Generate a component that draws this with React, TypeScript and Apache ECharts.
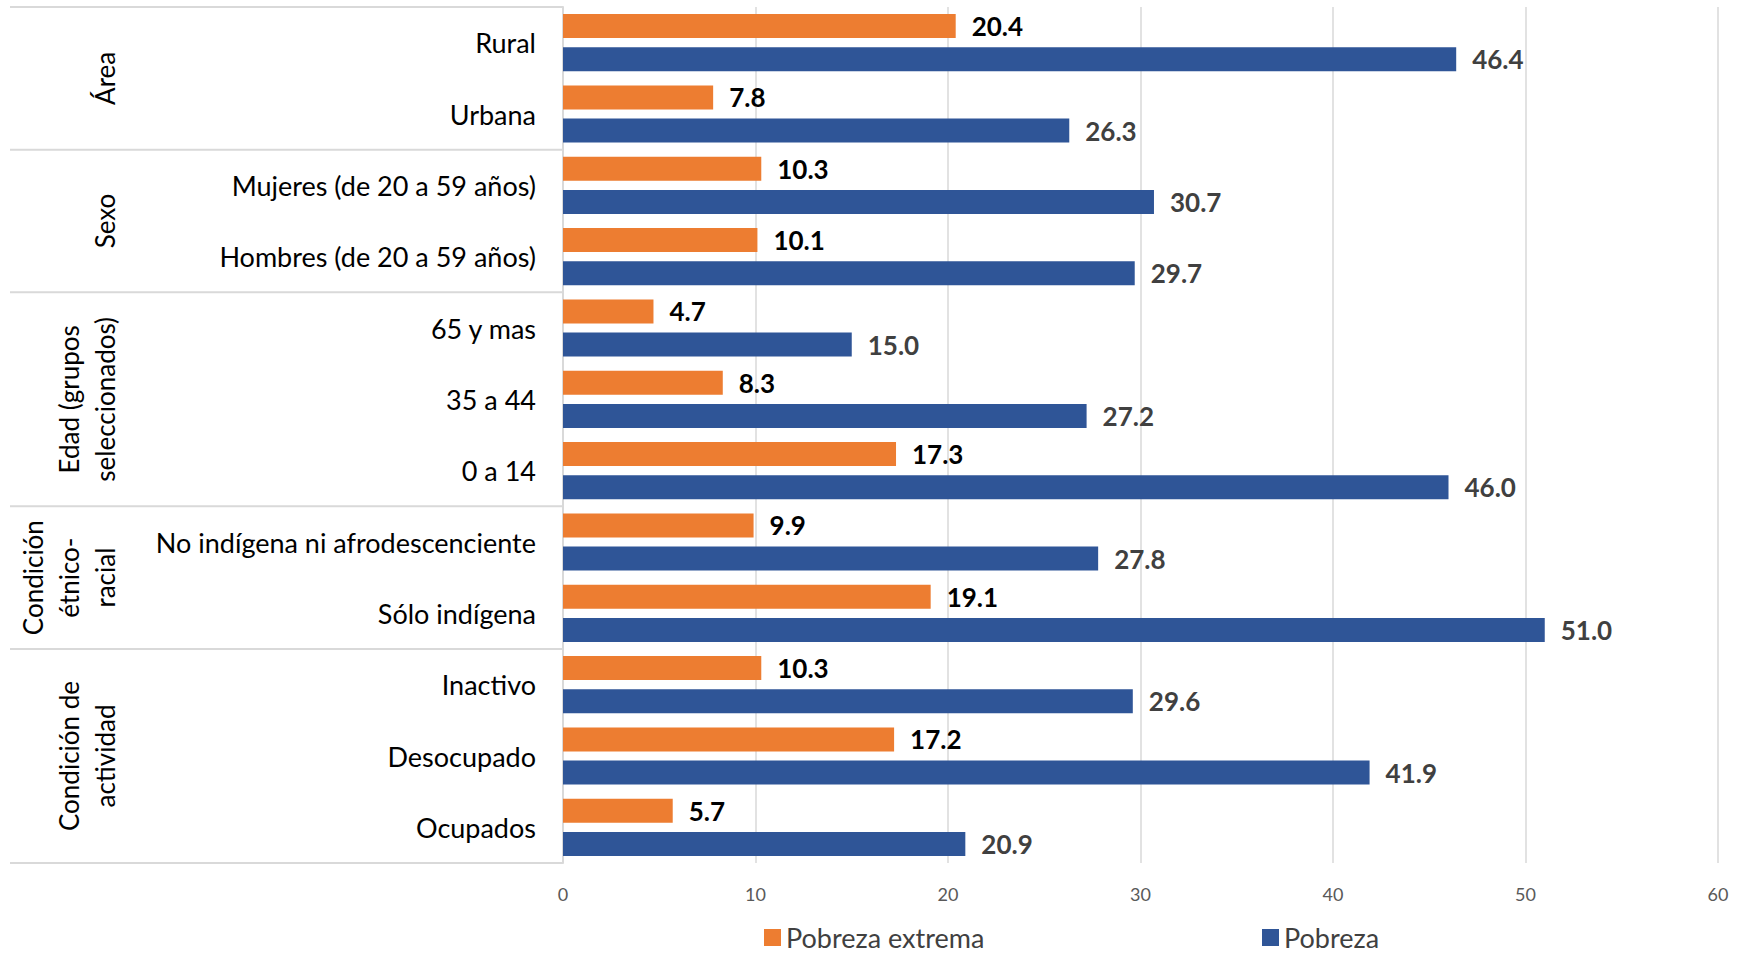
import React, { useEffect, useRef } from "react";
import * as echarts from "echarts";

const categories = [
  "Rural",
  "Urbana",
  "Mujeres (de 20 a 59 años)",
  "Hombres (de 20 a 59 años)",
  "65 y mas",
  "35 a 44",
  "0 a 14",
  "No indígena ni afrodescenciente",
  "Sólo indígena",
  "Inactivo",
  "Desocupado",
  "Ocupados",
];
const pobrezaExtrema = [20.4, 7.8, 10.3, 10.1, 4.7, 8.3, 17.3, 9.9, 19.1, 10.3, 17.2, 5.7];
const pobreza = [46.4, 26.3, 30.7, 29.7, 15.0, 27.2, 46.0, 27.8, 51.0, 29.6, 41.9, 20.9];
const groupNames = [
  "Área",
  "Sexo",
  "Edad (grupos\nseleccionados)",
  "Condición\nétnico-\nracial",
  "Condición de\nactividad",
];
const groupSizes = [2, 2, 3, 2, 3];
const xTicks = { min: 0, max: 60, interval: 10 };

const FONT = "Lato";
const GRID = "#d9d9d9";

export default function App() {
  const ref = useRef<HTMLDivElement>(null);
  useEffect(() => {
    if (!ref.current) return;
    const chart = echarts.init(ref.current, null, { renderer: "svg" });
    const legendText = { fontSize: 27, lineHeight: 27, color: "#404040", fontFamily: FONT };
    chart.setOption({
      animation: false,
      textStyle: { fontFamily: FONT },
      grid: { left: 563, right: 21, top: 7, bottom: 94, containLabel: false },
      legend: [
        {
          left: 764,
          top: 924,
          padding: 0,
          itemWidth: 17,
          itemHeight: 17,
          itemGap: 8,
          icon: "rect",
          data: ["Pobreza extrema"],
          textStyle: legendText,
        },
        {
          left: 1262,
          top: 924,
          padding: 0,
          itemWidth: 17,
          itemHeight: 17,
          icon: "rect",
          data: ["Pobreza"],
          textStyle: legendText,
        },
      ],
      xAxis: {
        type: "value",
        min: xTicks.min,
        max: xTicks.max,
        interval: xTicks.interval,
        axisLine: { show: false },
        axisTick: { show: false },
        axisLabel: { color: "#595959", fontSize: 18, margin: 22, fontFamily: FONT },
        splitLine: { lineStyle: { color: GRID, width: 1.5 } },
      },
      yAxis: {
        type: "category",
        data: categories,
        inverse: true,
        axisLine: { show: true, lineStyle: { color: GRID, width: 2 } },
        axisTick: { show: false },
        axisLabel: { color: "#000", fontSize: 27, margin: 27, fontFamily: FONT },
      },
      series: [
        {
          name: "Pobreza extrema",
          type: "bar",
          data: pobrezaExtrema,
          barWidth: 24,
          barGap: "38%",
          itemStyle: { color: "#ED7D31" },
          label: {
            show: true,
            position: "right",
            distance: 16,
            formatter: (p: any) => Number(p.value).toFixed(1),
            color: "#000",
            fontWeight: "bold",
            fontSize: 26,
            fontFamily: FONT,
          },
        },
        {
          name: "Pobreza",
          type: "bar",
          data: pobreza,
          barWidth: 24,
          itemStyle: { color: "#2F5597" },
          label: {
            show: true,
            position: "right",
            distance: 16,
            formatter: (p: any) => Number(p.value).toFixed(1),
            color: "#404040",
            fontWeight: "bold",
            fontSize: 26,
            fontFamily: FONT,
          },
        },
      ],
    });

    const c0 = chart.convertToPixel({ yAxisIndex: 0 }, 0) as number;
    const c1 = chart.convertToPixel({ yAxisIndex: 0 }, 1) as number;
    const band = c1 - c0;
    const axisX = chart.convertToPixel({ xAxisIndex: 0 }, 0) as number;
    const top = c0 - band / 2;
    const graphics: any[] = [];
    const lineX0 = 10;
    let idx = 0;
    const seps = [top];
    groupNames.forEach((name, g) => {
      const start = top + idx * band;
      idx += groupSizes[g];
      const end = top + idx * band;
      seps.push(end);
      const nLines = name.split("\n").length;
      const cx = 105 - ((nLines - 1) * 36) / 2;
      graphics.push({
        type: "text",
        x: cx,
        y: (start + end) / 2,
        rotation: Math.PI / 2,
        style: {
          text: name,
          fill: "#000",
          font: `26px ${FONT}`,
          align: "center",
          verticalAlign: "middle",
          lineHeight: 36,
        },
      });
    });
    seps.forEach((y) => {
      graphics.push({
        type: "line",
        shape: { x1: lineX0, y1: y, x2: axisX, y2: y },
        style: { stroke: GRID, lineWidth: 2 },
      });
    });
    chart.setOption({ graphic: graphics });

    return () => chart.dispose();
  }, []);
  return (
    <div
      ref={ref}
      style={{ position: "fixed", left: 0, top: 0, width: 1739, height: 957, background: "#fff" }}
    />
  );
}
